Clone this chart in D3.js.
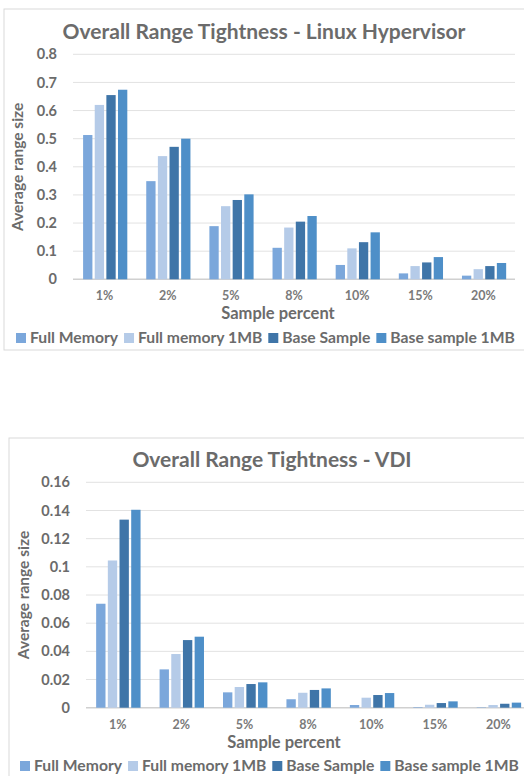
<!DOCTYPE html>
<html lang="en">
<head>
<meta charset="UTF-8">
<title>Overall Range Tightness</title>
<style>
  body { margin: 0; background: #fff; }
  svg text { font-family: Lato, "Open Sans", sans-serif; font-weight: bold; }
</style>
</head>
<body>
<svg id="chart" width="524" height="776"></svg>
<script src="https://cdn.jsdelivr.net/npm/d3@7"></script>
<script>
const categories = ["1%", "2%", "5%", "8%", "10%", "15%", "20%"];
const seriesNames = ["Full Memory", "Full memory 1MB", "Base Sample", "Base sample 1MB"];
const seriesColors = ["#7ba7db", "#b5cbe8", "#3f75a8", "#4e8fc8"];

// Linux Hypervisor
const linuxFullMemory = [0.513, 0.349, 0.189, 0.112, 0.051, 0.021, 0.013];
const linuxFullMemory1MB = [0.620, 0.438, 0.260, 0.184, 0.110, 0.047, 0.036];
const linuxBaseSample = [0.655, 0.471, 0.282, 0.205, 0.132, 0.060, 0.047];
const linuxBaseSample1MB = [0.674, 0.500, 0.302, 0.225, 0.167, 0.079, 0.058];
const linuxTicks = [0, 0.1, 0.2, 0.3, 0.4, 0.5, 0.6, 0.7, 0.8];

// VDI
const vdiFullMemory = [0.0738, 0.0272, 0.0109, 0.0060, 0.0019, 0.0004, 0.0003];
const vdiFullMemory1MB = [0.1045, 0.0381, 0.0147, 0.0106, 0.0071, 0.0021, 0.0019];
const vdiBaseSample = [0.1335, 0.0480, 0.0168, 0.0126, 0.0090, 0.0033, 0.0028];
const vdiBaseSample1MB = [0.1405, 0.0504, 0.0180, 0.0137, 0.0104, 0.0045, 0.0036];
const vdiTicks = [0, 0.02, 0.04, 0.06, 0.08, 0.1, 0.12, 0.14, 0.16];

const svg = d3.select("#chart");
const textColor = "#6b6b6b";

function drawChart(opt) {
    const g = svg.append("g");

    // outer frame
    g.append("rect")
        .attr("x", opt.box[0]).attr("y", opt.box[1])
        .attr("width", opt.box[2]).attr("height", opt.box[3])
        .attr("fill", "#fff").attr("stroke", "#d9d9d9").attr("stroke-width", 1);

    g.append("text")
        .attr("x", opt.titleX).attr("y", opt.titleY)
        .attr("text-anchor", "middle")
        .attr("font-size", 21)
        .attr("fill", textColor)
        .text(opt.title);

    const y = d3.scaleLinear()
        .domain([0, d3.max(opt.ticks)])
        .range([opt.y0, opt.y1]);

    const x = d3.scaleBand()
        .domain(categories)
        .range([opt.x0, opt.x1]);

    const xs = d3.scaleBand()
        .domain(seriesNames)
        .range([x.bandwidth() * 0.16, x.bandwidth() * 0.86])
        .paddingInner(0.2);

    // gridlines
    g.append("g").selectAll("line")
        .data(opt.ticks)
        .join("line")
        .attr("x1", opt.x0).attr("x2", opt.x1)
        .attr("y1", d => y(d)).attr("y2", d => y(d))
        .attr("stroke", d => d === 0 ? "#d0d0d0" : "#e2e2e2")
        .attr("stroke-width", d => d === 0 ? 1.5 : 1);

    // y axis labels
    const yAxis = g.append("g")
        .attr("transform", `translate(${opt.x0 - 13},0)`)
        .call(d3.axisLeft(y).tickValues(opt.ticks).tickSize(0)
            .tickFormat(d => d === 0 ? "0" : String(+d.toFixed(2))));
    yAxis.select(".domain").remove();
    yAxis.selectAll("text")
        .attr("font-size", 14.5)
        .attr("fill", textColor)
        .style("font-family", "Lato, sans-serif")
        .style("font-weight", "bold");

    // bars
    const rows = categories.map((c, i) => ({ cat: c, vals: opt.series.map(s => s[i]) }));
    g.append("g").selectAll("g")
        .data(rows)
        .join("g")
        .attr("transform", d => `translate(${x(d.cat)},0)`)
        .selectAll("rect")
        .data(d => d.vals.map((v, j) => ({ name: seriesNames[j], v, color: seriesColors[j] })))
        .join("rect")
        .attr("x", d => xs(d.name))
        .attr("width", xs.bandwidth())
        .attr("y", d => y(d.v))
        .attr("height", d => opt.y0 - y(d.v))
        .attr("fill", d => d.color);

    // x category labels
    const xAxis = g.append("g")
        .attr("transform", `translate(0,${opt.y0 + 9})`)
        .call(d3.axisBottom(x).tickSize(0));
    xAxis.select(".domain").remove();
    xAxis.selectAll("text")
        .attr("font-size", 12.5)
        .attr("fill", "#7a7a7a")
        .style("font-family", "Lato, sans-serif")
        .style("font-weight", "bold");

    g.append("text")
        .attr("x", (opt.x0 + opt.x1) / 2 - opt.xTitleShift)
        .attr("y", opt.y0 + 40)
        .attr("text-anchor", "middle")
        .attr("font-size", 16.5)
        .attr("fill", textColor)
        .text("Sample percent");

    g.append("text")
        .attr("transform", `translate(${opt.yTitleX},${(opt.y0 + opt.y1) / 2}) rotate(-90)`)
        .attr("text-anchor", "middle")
        .attr("font-size", 15.5)
        .attr("fill", textColor)
        .text("Average range size");

    // legend
    const legend = g.append("g").attr("transform", `translate(${opt.legendX},${opt.legendY})`);
    let lx = 0;
    seriesNames.forEach((name, i) => {
        legend.append("rect")
            .attr("x", lx).attr("y", -10)
            .attr("width", 10).attr("height", 10)
            .attr("fill", seriesColors[i]);
        const t = legend.append("text")
            .attr("x", lx + 14).attr("y", 0)
            .attr("font-size", 15.7)
            .attr("fill", textColor)
            .text(name);
        lx += 14 + t.node().getComputedTextLength() + 6;
    });
}

drawChart({
    title: "Overall Range Tightness - Linux Hypervisor",
    box: [4, 9, 540, 341],
    titleX: 264, titleY: 39,
    x0: 73, x1: 515, y0: 279.3, y1: 54.3,
    ticks: linuxTicks,
    series: [linuxFullMemory, linuxFullMemory1MB, linuxBaseSample, linuxBaseSample1MB],
    yTitleX: 23, xTitleShift: 16,
    legendX: 16, legendY: 343
});

drawChart({
    title: "Overall Range Tightness - VDI",
    box: [9, 438, 540, 360],
    titleX: 272, titleY: 467,
    x0: 86, x1: 530, y0: 707.7, y1: 482.3,
    ticks: vdiTicks,
    series: [vdiFullMemory, vdiFullMemory1MB, vdiBaseSample, vdiBaseSample1MB],
    yTitleX: 29, xTitleShift: 24,
    legendX: 20, legendY: 771
});
</script>
</body>
</html>
